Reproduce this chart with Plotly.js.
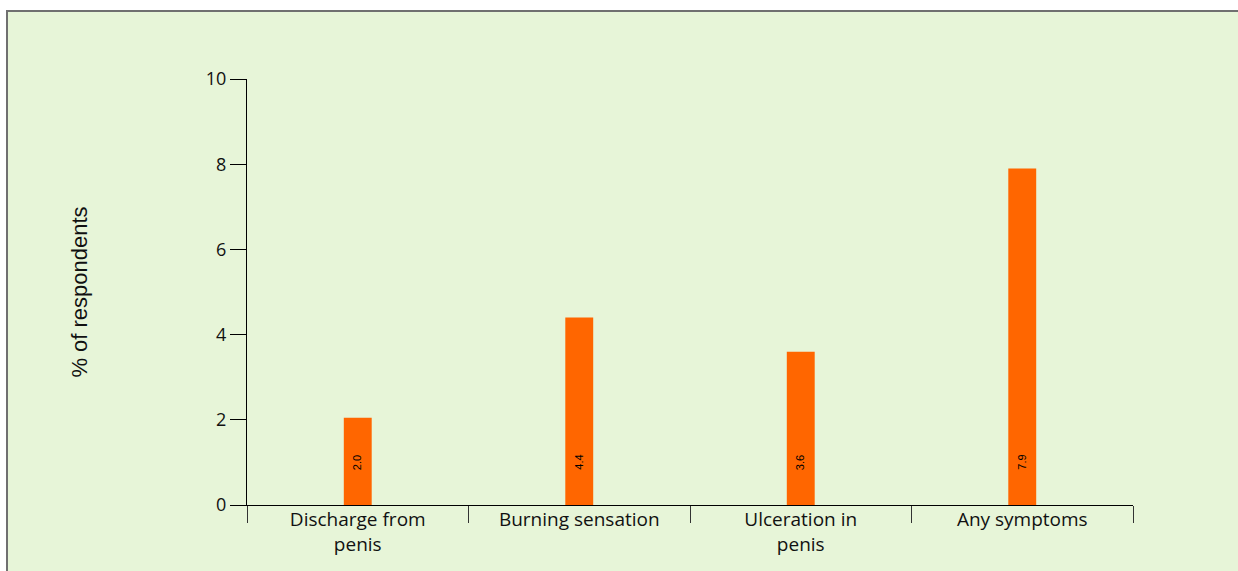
<!DOCTYPE html>
<html>
<head>
<meta charset="utf-8">
<script src="https://cdn.plot.ly/plotly-3.0.1.min.js"></script>
<style>
  html, body { margin: 0; padding: 0; background: #ffffff; }
  #bg { position: absolute; left: 6px; top: 10px; width: 1232px; height: 561px;
        background: #e7f5d8; border-top: 2px solid #707070; border-left: 2px solid #707070; box-sizing: border-box; }
  #chart { position: absolute; left: 0; top: 0; width: 1238px; height: 571px; }
</style>
</head>
<body>
<div id="bg"></div>
<div id="chart"></div>
<script>
const categories = ["Discharge from<br>penis", "Burning sensation", "Ulceration in<br>penis", "Any symptoms"];
const values = [2.05, 4.4, 3.6, 7.9];
const valueLabels = ["2.0", "4.4", "3.6", "7.9"];
const yTickVals = [0, 2, 4, 6, 8, 10];
const labelLevel = 1.0;

const trace = {
  type: 'bar',
  x: categories,
  y: values,
  width: 0.126,
  marker: { color: '#ff6600', line: { width: 0 } },
  hoverinfo: 'skip'
};

const annotations = categories.map((c, i) => ({
  x: c, y: labelLevel, xref: 'x', yref: 'y',
  text: valueLabels[i], showarrow: false, textangle: -90,
  font: { family: 'Liberation Sans, Arial, sans-serif', size: 11, color: '#000' }
}));

const layout = {
  width: 1238, height: 571,
  margin: { l: 247, r: 105, t: 79, b: 66 },
  paper_bgcolor: 'rgba(0,0,0,0)',
  plot_bgcolor: 'rgba(0,0,0,0)',
  showlegend: false,
  font: { family: 'Open Sans, sans-serif', size: 17, color: '#111' },
  xaxis: {
    type: 'category',
    range: [-0.5, 3.5],
    showline: true, linecolor: '#000', linewidth: 1,
    ticks: 'outside', tickson: 'boundaries', ticklen: 17, tickcolor: '#333', tickwidth: 1,
    ticklabelstandoff: -3,
    showgrid: false, zeroline: false,
    tickfont: { family: 'Open Sans, sans-serif', size: 19, color: '#111' },
    fixedrange: true
  },
  yaxis: {
    range: [0, 10],
    tickvals: yTickVals,
    showline: true, linecolor: '#000', linewidth: 1,
    ticks: 'outside', ticklen: 16, tickcolor: '#000', tickwidth: 1,
    showgrid: false, zeroline: false,
    tickfont: { family: 'Open Sans, sans-serif', size: 18, color: '#111' },
    title: { text: '% of respondents', standoff: 112, font: { family: 'Liberation Sans, Arial, sans-serif', size: 22, color: '#111' } },
    automargin: false,
    fixedrange: true
  },
  annotations: annotations
};

Plotly.newPlot('chart', [trace], layout, { displayModeBar: false, staticPlot: true });
</script>
</body>
</html>
